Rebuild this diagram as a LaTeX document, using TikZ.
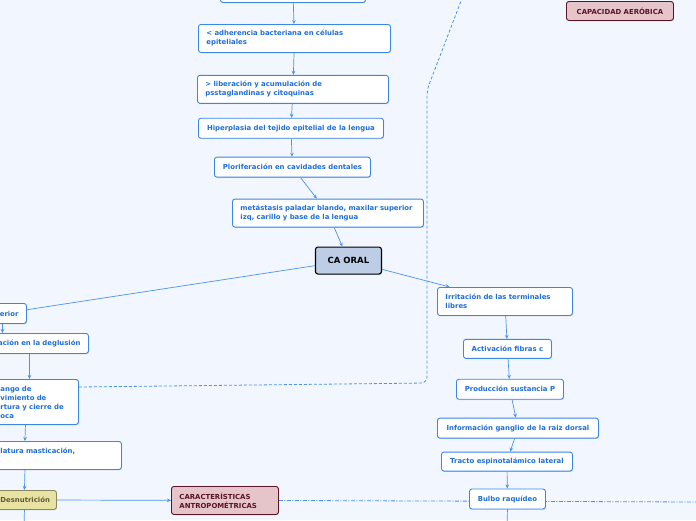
\documentclass[tikz,border=0pt]{standalone}
\usepackage{fontspec}
\setmainfont{DejaVu Sans}
\usetikzlibrary{arrows.meta, positioning, shadows, backgrounds}
\definecolor{MapBack}{RGB}{242, 246, 254}
\definecolor{MapBlue}{RGB}{59, 135, 230}
\definecolor{MapText}{RGB}{31, 111, 214}
\definecolor{MapLink}{RGB}{77, 148, 232}
\definecolor{CoreFill}{RGB}{188, 205, 229}
\definecolor{RoseFill}{RGB}{230, 197, 202}
\definecolor{RoseDark}{RGB}{90, 20, 36}
\definecolor{OliveFill}{RGB}{232, 227, 163}
\definecolor{OliveDraw}{RGB}{140, 135, 96}
\definecolor{OliveText}{RGB}{95, 91, 53}

\begin{document}
\begin{tikzpicture}[
    x=1pt, y=-1pt,
    every node/.style={font=\fontsize{6.9}{9}\selectfont\bfseries},
    card/.style={rectangle, draw=MapBlue, fill=white, text=MapText, rounded corners=2.5pt, line width=0.9pt, inner xsep=8pt, inner ysep=2pt, drop shadow={shadow xshift=0.7pt, shadow yshift=-0.8pt, opacity=0.25}},
    core/.style={rectangle, draw=black, fill=CoreFill, text=black, rounded corners=2.5pt, line width=1.1pt, font=\fontsize{8.5}{10}\selectfont\bfseries, drop shadow={shadow xshift=0.7pt, shadow yshift=-0.8pt, opacity=0.25}},
    rose/.style={rectangle, draw=RoseDark, fill=RoseFill, text=RoseDark, rounded corners=2.5pt, line width=0.9pt, inner xsep=8pt, inner ysep=2pt, drop shadow={shadow xshift=0.7pt, shadow yshift=-0.8pt, opacity=0.25}},
    olive/.style={rectangle, draw=OliveDraw, fill=OliveFill, text=OliveText, rounded corners=2.5pt, line width=0.9pt, inner xsep=8pt, inner ysep=2pt, drop shadow={shadow xshift=0.7pt, shadow yshift=-0.8pt, opacity=0.25}},
    arrow/.style={-{Stealth[length=4pt, width=3.6pt]}, draw=MapLink, line width=0.7pt},
    link/.style={draw=MapLink, line width=0.7pt},
    relation/.style={draw=MapLink, line width=0.8pt, dash pattern=on 3pt off 2pt},
    relationdot/.style={draw=MapLink, line width=0.8pt, dash pattern=on 4pt off 1.5pt on 1pt off 1.5pt}
  ]
    \useasboundingbox (0,0) rectangle (696,520);
    \begin{scope}[on background layer]
      \fill[MapBack] (0,0) rectangle (696,520);
    \end{scope}

    % Central chain
    \node[card, anchor=north west, minimum width=145pt, minimum height=22pt] (top) at (220,-20) {};
    \node[card, anchor=north west, minimum height=28pt, text width=176pt, align=left] (adh) at (198,24) {< adherencia bacteriana en células\\epiteliales};
    \node[card, below=22pt of adh, xshift=-1.5pt, minimum height=28pt, text width=175pt, align=left] (lib) {> liberación y acumulación de\\psstaglandinas y citoquinas};
    \node[card, below=14pt of lib, xshift=-2pt, minimum width=185pt, minimum height=20pt] (hip) {Hiperplasia del tejido epitelial de la lengua};
    \node[card, below=18pt of hip, xshift=1.5pt, minimum width=156pt, minimum height=20pt] (plo) {Ploriferación en cavidades dentales};
    \node[card, below=21pt of plo, xshift=35.5pt, minimum height=28pt, text width=175pt, align=left] (met) {metástasis paladar blando, maxilar superior\\izq, carillo y base de la lengua};
    \node[core, below=19pt of met, xshift=20.5pt, minimum width=66pt, minimum height=27pt] (ca) {CA ORAL};

    % Left branch
    \node[card, anchor=north west, minimum width=48pt, minimum height=20pt, text width=32pt, align=right] (sup) at (-22,303) {erior};
    \node[card, anchor=north west, minimum width=118pt, minimum height=20pt, text width=102pt, align=right] (deg) at (-30,333) {ación en la deglusión};
    \node[card, anchor=north west, minimum height=45pt, text width=70pt, align=left] (rango) at (-8,379) {ango de\\vimiento de\\rtura y cierre de\\oca};
    \node[card, anchor=north west, minimum height=28pt, text width=113pt, align=left] (mast) at (-8,441) {latura masticación,\\\phantom{x}};
    \node[olive, anchor=north west, minimum height=19pt, text width=48pt, align=left] (des) at (-8,490) {Desnutrición};
    \node[rose, anchor=north west, minimum height=28pt, text width=91pt, align=left] (car) at (171,486) {CARACTERÍSTICAS\\ANTROPOMÉTRICAS};
    \node[rose, anchor=north west, minimum width=107pt, minimum height=19pt] (cap) at (566,1) {CAPACIDAD AERÓBICA};

    % Right branch
    \node[card, anchor=north west, minimum height=28pt, text width=119pt, align=left] (irr) at (437,287) {Irritación de las terminales\\libres};
    \node[card, below=23pt of irr, xshift=2.5pt, minimum width=88pt, minimum height=19pt] (act) {Activación fibras c};
    \node[card, below=20pt of act, xshift=2.5pt, minimum width=107pt, minimum height=20pt] (prod) {Producción sustancia P};
    \node[card, below=18pt of prod, xshift=8pt, minimum width=161pt, minimum height=20pt] (info) {Información ganglio de la raiz dorsal};
    \node[card, below=13pt of info, xshift=-11pt, minimum width=131pt, minimum height=19pt] (tra) {Tracto espinotalámico lateral};
    \node[card, below=17pt of tra, xshift=0.5pt, minimum width=76pt, minimum height=20pt] (bul) {Bulbo raquídeo};

    % Free ends
    \coordinate (bendLow) at (427,383);
    \coordinate (bendHigh) at (427,90);
    \coordinate (topEnd) at (466,-12);
    \coordinate (rightEnd) at (700,502);
    \coordinate (desEnd) at (24,530);
    \coordinate (bulEnd) at (507,530);

    % Connections
    \begin{scope}[on background layer]
      \draw[arrow] (top) -- (adh);
      \draw[arrow] (adh) -- (lib);
      \draw[arrow] (lib) -- (hip);
      \draw[arrow] (hip) -- (plo);
      \draw[arrow] (plo) -- (met);
      \draw[arrow] (met) -- (ca);
      \draw[link] (ca) -- (sup);
      \draw[arrow] (ca) -- (irr);
      \draw[arrow] (sup) -- (sup |- deg.north);
      \draw[arrow] (deg.south) -- ([xshift=-6pt]rango.north);
      \draw[arrow] ([xshift=-10pt]rango.south) -- ([xshift=-32pt]mast.north);
      \draw[arrow] ([xshift=-32pt]mast.south) -- (des.north);
      \draw[arrow] (des) -- (car);
      \draw[link] (des.south) -- (desEnd);
      \draw[arrow] (irr) -- (act);
      \draw[arrow] (act) -- (prod);
      \draw[arrow] (prod) -- (info);
      \draw[arrow] (info) -- (tra);
      \draw[arrow] (tra) -- (bul);
      \draw[link] (bul.south) -- (bulEnd);
      \draw[relation, rounded corners=6pt] ([yshift=-8pt]rango.north east) -- (bendLow) -- (bendHigh) -- (topEnd);
      \draw[relationdot] (car.east) -- (rightEnd);
    \end{scope}
  \end{tikzpicture}
\end{document}
